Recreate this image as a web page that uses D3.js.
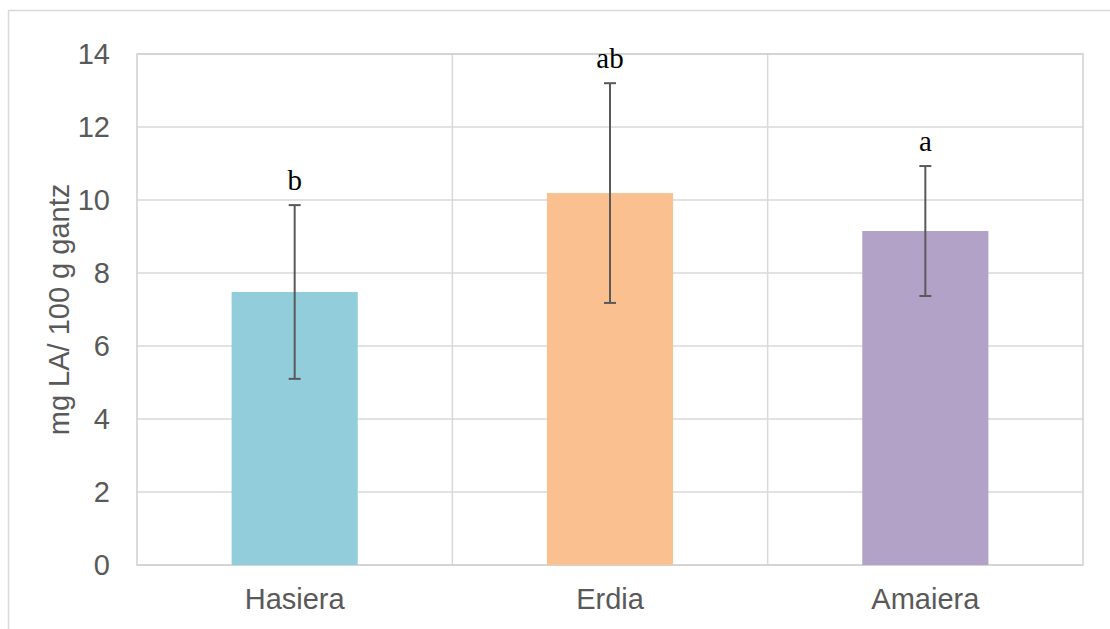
<!DOCTYPE html>
<html>
<head>
<meta charset="utf-8">
<script src="https://cdn.jsdelivr.net/npm/d3@7"></script>
<style>
  body { margin: 0; background: #fff; }
</style>
</head>
<body>
<svg id="bar_chart" width="1110" height="629"></svg>
<script>
// chart values
const categories = ['Hasiera', 'Erdia', 'Amaiera']
const values = [7.48, 10.19, 9.15]
const errors = [2.38, 3.01, 1.78]
const letters = ['b', 'ab', 'a']
const colors = ['#92cddc', '#fac090', '#b3a2c7']
const yTicks = [0, 2, 4, 6, 8, 10, 12, 14]

const svg = d3.select('#bar_chart')
const margin = { top: 54, right: 27, bottom: 64, left: 137 }
const width = +svg.attr('width') - margin.left - margin.right
const height = +svg.attr('height') - margin.top - margin.bottom
const sans = '"Liberation Sans", Arial, sans-serif'

// outer chart frame (cut off at right / bottom)
svg.append('rect')
  .attr('x', 8.5).attr('y', 10.5)
  .attr('width', 1120).attr('height', 640)
  .attr('fill', 'none').attr('stroke', '#d9d9d9').attr('stroke-width', 1.5)

const g = svg.append('g').attr('transform', 'translate(' + margin.left + ',' + margin.top + ')')

const x = d3.scaleBand().domain(categories).range([0, width]).paddingInner(0).paddingOuter(0)
const y = d3.scaleLinear().domain([0, 14]).range([height, 0])

// horizontal gridlines
g.append('g')
  .selectAll('line')
  .data(yTicks)
  .join('line')
  .attr('x1', 0).attr('x2', width)
  .attr('y1', d => y(d)).attr('y2', d => y(d))
  .attr('stroke', '#d9d9d9').attr('stroke-width', 1.5)

// vertical gridlines at category borders
g.append('g')
  .selectAll('line')
  .data(categories.slice(1))
  .join('line')
  .attr('x1', d => x(d)).attr('x2', d => x(d))
  .attr('y1', 0).attr('y2', height)
  .attr('stroke', '#d9d9d9').attr('stroke-width', 1.5)

// plot border
g.append('rect')
  .attr('x', 0).attr('y', 0).attr('width', width).attr('height', height)
  .attr('fill', 'none').attr('stroke', '#d0d0d0').attr('stroke-width', 1.5)

// y axis
const yAxis = g.append('g').call(d3.axisLeft(y).tickValues(yTicks).tickSize(0).tickPadding(27))
yAxis.select('.domain').remove()
yAxis.selectAll('text')
  .attr('fill', '#595959')
  .style('font-family', sans)
  .style('font-size', '29px')

// x axis
const xAxis = g.append('g')
  .attr('transform', `translate(0, ${height})`)
  .call(d3.axisBottom(x).tickSize(0).tickPadding(23))
xAxis.select('.domain').remove()
xAxis.selectAll('text')
  .attr('fill', '#595959')
  .style('font-family', sans)
  .style('font-size', '29px')

// y axis title
svg.append('text')
  .attr('transform', 'translate(69,' + (margin.top + height / 2) + ') rotate(-90)')
  .attr('text-anchor', 'middle')
  .attr('fill', '#595959')
  .style('font-family', sans)
  .style('font-size', '29px')
  .text('mg LA/ 100 g gantz')

const data = categories.map((c, i) => ({ cat: c, value: values[i], err: errors[i], letter: letters[i], color: colors[i] }))
const barW = x.bandwidth() * 0.4
const cx = d => x(d.cat) + x.bandwidth() / 2

// bars
g.selectAll('.bar')
  .data(data)
  .join('rect')
  .attr('class', 'bar')
  .attr('x', d => x(d.cat) + (x.bandwidth() - barW) / 2)
  .attr('y', d => y(d.value))
  .attr('width', barW)
  .attr('height', d => y(0) - y(d.value))
  .attr('fill', d => d.color)

// error bars
const eb = g.selectAll('.err').data(data).join('g').attr('class', 'err')
  .attr('stroke', '#595959').attr('stroke-width', 2)
eb.append('line')
  .attr('x1', cx).attr('x2', cx)
  .attr('y1', d => y(d.value + d.err)).attr('y2', d => y(d.value - d.err))
eb.append('line')
  .attr('x1', d => cx(d) - 6).attr('x2', d => cx(d) + 6)
  .attr('y1', d => y(d.value + d.err)).attr('y2', d => y(d.value + d.err))
eb.append('line')
  .attr('x1', d => cx(d) - 6).attr('x2', d => cx(d) + 6)
  .attr('y1', d => y(d.value - d.err)).attr('y2', d => y(d.value - d.err))

// significance letters
g.selectAll('.letter')
  .data(data)
  .join('text')
  .attr('class', 'letter')
  .attr('x', cx)
  .attr('y', d => y(d.value + d.err) - 15)
  .attr('text-anchor', 'middle')
  .attr('fill', '#000')
  .style('font-family', '"Liberation Serif", "Times New Roman", serif')
  .style('font-size', '29px')
  .text(d => d.letter)
</script>
</body>
</html>
